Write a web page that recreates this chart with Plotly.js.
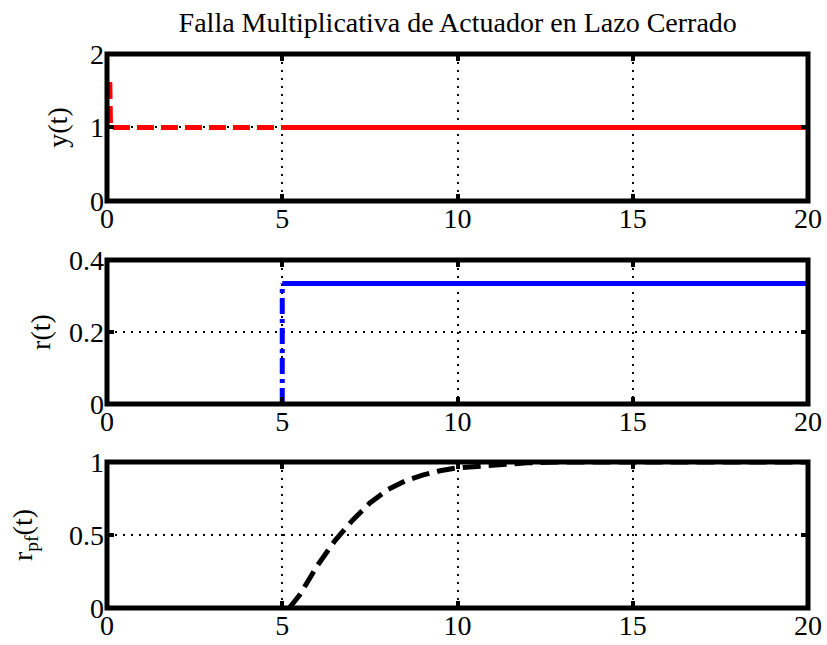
<!DOCTYPE html>
<html>
<head>
<meta charset="utf-8">
<script src="https://cdn.plot.ly/plotly-3.0.1.min.js"></script>
<style>html,body{margin:0;padding:0;background:#fff;}#chart{width:827px;height:645px;}</style>
</head>
<body>
<div id="chart"></div>
<script>
// Top panel: y(t)
const tY_a = [0.08, 0.1, 1, 2, 3, 4, 5];
const yY_a = [1.62, 1.0, 1.0, 1.0, 1.0, 1.0, 1.0];
const tY_b = [5, 10, 15, 20];
const yY_b = [1.0, 1.0, 1.0, 1.0];
// Middle panel: r(t)
const tR_a = [5, 5];
const yR_a = [0, 0.335];
const tR_b = [5, 10, 15, 20];
const yR_b = [0.335, 0.335, 0.335, 0.335];
// Bottom panel: r_pf(t)
const tP = [5.2, 5.5, 6, 6.5, 7, 7.5, 8, 8.5, 9, 9.5, 10, 11, 12, 13, 20];
const yP = [0, 0.09, 0.29, 0.46, 0.6, 0.72, 0.81, 0.87, 0.91, 0.94, 0.96, 0.98, 0.995, 1.0, 1.0];
// Ticks
const xTicks = [0, 5, 10, 15, 20];
const yTicksTop = [0, 1, 2];
const yTicksMid = [0, 0.2, 0.4];
const yTicksMidText = ['0', '0.2', '0.4'];
const yTicksBot = [0, 0.5, 1];
const yTicksBotText = ['0', '0.5', '1'];

const font = {family: 'Liberation Serif, Times New Roman, serif', size: 28, color: '#000'};

const traces = [
  {x: tY_a, y: yY_a, xaxis: 'x', yaxis: 'y', mode: 'lines', line: {color: '#ff0000', width: 5, dash: '17px,7px'}},
  {x: tY_b, y: yY_b, xaxis: 'x', yaxis: 'y', mode: 'lines', line: {color: '#ff0000', width: 5}},
  {x: tR_a, y: yR_a, xaxis: 'x2', yaxis: 'y2', mode: 'lines', line: {color: '#0000ff', width: 5, dash: '16px,5px,4px,5px'}},
  {x: tR_b, y: yR_b, xaxis: 'x2', yaxis: 'y2', mode: 'lines', line: {color: '#0000ff', width: 5}},
  {x: tP, y: yP, xaxis: 'x3', yaxis: 'y3', mode: 'lines', line: {color: '#000000', width: 5, dash: '18px,8px'}}
];

function xa(anchor) {
  return {
    anchor: anchor, domain: [0, 1], range: [0, 20], tickvals: xTicks, ticktext: xTicks.map(String),
    showline: false, mirror: 'ticks',
    ticks: 'inside', ticklen: 7, tickwidth: 4, tickcolor: '#000',
    showgrid: true, gridcolor: '#000', gridwidth: 2, griddash: '2px,6px',
    zeroline: false, tickfont: font, fixedrange: true, ticklabelstandoff: -2
  };
}
function ya(anchor, domain, range, vals, text, title, standoff) {
  return {
    anchor: anchor, domain: domain, range: range, tickvals: vals, ticktext: text,
    showline: false, mirror: 'ticks',
    ticks: 'inside', ticklen: 7, tickwidth: 4, tickcolor: '#000',
    showgrid: true, gridcolor: '#000', gridwidth: 2, griddash: '2px,6px',
    zeroline: false, tickfont: font, fixedrange: true, ticklabelstandoff: 2,
    title: {text: title, font: font, standoff: standoff}
  };
}

const domTop = [0.7347, 1.0], domMid = [0.3682, 0.6282], domBot = [0, 0.2635];
function frame(d) {
  return {type: 'rect', xref: 'paper', yref: 'paper', x0: 0, x1: 1, y0: d[0], y1: d[1],
          line: {color: '#000', width: 5}, fillcolor: 'rgba(0,0,0,0)', layer: 'above'};
}

const layout = {
  width: 827, height: 645,
  margin: {l: 107, r: 19, t: 54, b: 37},
  paper_bgcolor: '#fff', plot_bgcolor: '#fff',
  showlegend: false,
  title: {text: 'Falla Multiplicativa de Actuador en Lazo Cerrado', font: {family: 'Liberation Serif, Times New Roman, serif', size: 28, color: '#000'}, x: 0.5535, xanchor: 'center', y: 0.965, yanchor: 'middle'},
  xaxis: xa('y'),
  yaxis: ya('x', domTop, [0, 2], yTicksTop, yTicksTop.map(String), 'y(t)', 14),
  xaxis2: xa('y2'),
  yaxis2: ya('x2', domMid, [0, 0.4], yTicksMid, yTicksMidText, 'r(t)', 10),
  xaxis3: xa('y3'),
  yaxis3: ya('x3', domBot, [0, 1], yTicksBot, yTicksBotText, 'r<sub>pf</sub>(t)', 28),
  shapes: [frame(domTop), frame(domMid), frame(domBot)]
};

Plotly.newPlot('chart', traces, layout, {displayModeBar: false, staticPlot: true});
</script>
</body>
</html>
